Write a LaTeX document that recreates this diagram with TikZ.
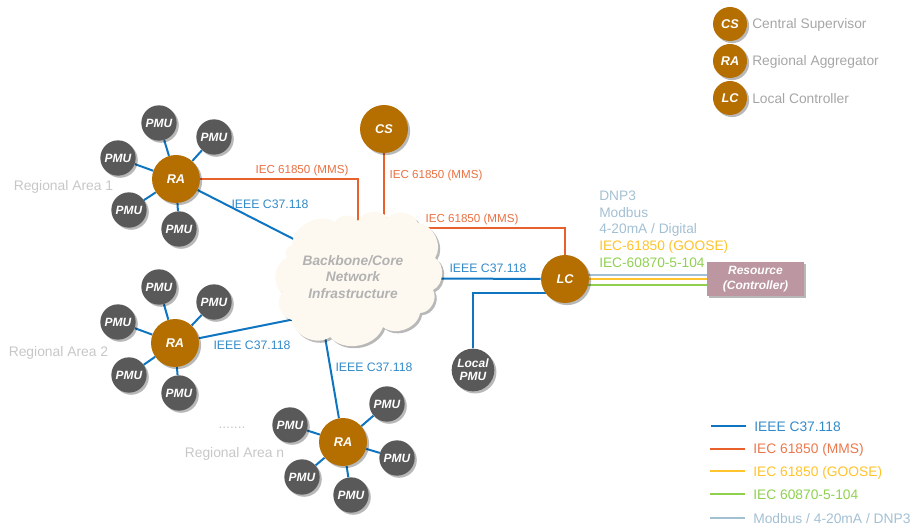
\documentclass[tikz,border=0pt]{standalone}
\usepackage{fontspec}
\setmainfont{Liberation Sans}
\usetikzlibrary{shadows,backgrounds}
\definecolor{cblue}{HTML}{0F75C0}
\definecolor{corange}{HTML}{E8602C}
\definecolor{cyellow}{HTML}{FFC32B}
\definecolor{cgreen}{HTML}{8FD14F}
\definecolor{cpale}{HTML}{A3C0D3}
\definecolor{cbrown}{HTML}{B56F00}
\definecolor{cdark}{HTML}{595959}
\definecolor{ccloud}{HTML}{FDF8F0}
\definecolor{cres}{HTML}{BC96A0}
\tikzset{
 softshadow/.style={drop shadow={shadow xshift=1.6pt,shadow yshift=-1.6pt,opacity=.28,fill=black}},
 hub/.style={circle,fill=cbrown,minimum size=36pt,inner sep=0pt,text=white,font=\fontsize{9.5}{11}\selectfont\bfseries\itshape,softshadow},
 keyhub/.style={hub,minimum size=25.5pt},
 pmu/.style={circle,fill=cdark,minimum size=26.5pt,inner sep=0pt,text=white,font=\fontsize{9}{10.5}\selectfont\bfseries\itshape,align=center,softshadow},
 localpmu/.style={pmu,minimum size=32pt},
 blueline/.style={draw=cblue,line width=1.5pt},
 orangeline/.style={draw=corange,line width=1.5pt},
 yellowline/.style={draw=cyellow,line width=1.5pt},
 greenline/.style={draw=cgreen,line width=1.5pt},
 paleline/.style={draw=cpale,line width=1.5pt},
 lab/.style={font=\fontsize{8.7}{10.5}\selectfont,inner sep=0pt,text=corange!90!white},
 bluelab/.style={font=\fontsize{9.2}{10.5}\selectfont,inner sep=0pt,text=cblue!85!white},
 keylab/.style={font=\fontsize{10.35}{12}\selectfont,inner sep=0pt,anchor=west},
 area/.style={font=\fontsize{10.4}{12}\selectfont,text=black!22,inner sep=0pt},
 proto/.style={font=\fontsize{10.3}{12}\selectfont,inner sep=0pt,anchor=west},
}
\begin{document}
\begin{tikzpicture}[x=0.75pt,y=-0.75pt]
\useasboundingbox (0,0) rectangle (915,527);
% hubs
\node[hub] (ra1) at (176,179) {RA};
\node[hub] (ra2) at (175,343) {RA};
\node[hub] (ra3) at (343,442) {RA};
\node[hub] (cs) at (384,129) {CS};
\node[hub] (lc) at (565,279) {LC};
% PMUs
\node[pmu] (p11) at (159,123) {PMU};
\node[pmu] (p12) at (214,137) {PMU};
\node[pmu] (p13) at (118,158) {PMU};
\node[pmu] (p14) at (129,210) {PMU};
\node[pmu] (p15) at (179,229) {PMU};
\node[pmu] (p21) at (159,287) {PMU};
\node[pmu] (p22) at (214,302) {PMU};
\node[pmu] (p23) at (118,322) {PMU};
\node[pmu] (p24) at (129,375) {PMU};
\node[pmu] (p25) at (179,393) {PMU};
\node[pmu] (p31) at (290,425) {PMU};
\node[pmu] (p32) at (387,404) {PMU};
\node[pmu] (p33) at (397,458) {PMU};
\node[pmu] (p34) at (302,477) {PMU};
\node[pmu] (p35) at (351,495) {PMU};
\node[localpmu] (lp) at (473,370) {Local\\[-1pt]PMU};
% cloud
\path[fill=ccloud,softshadow] (287,258) to[bend left=60] (292,245) to[bend left=60] (335,222)
  to[bend left=60] (358,221) to[bend left=60] (388,218) to[bend left=60] (418,223)
  to[bend left=60] (435,258) to[bend left=60] (433,290) to[bend left=60] (420,313)
  to[bend left=60] (383,327) to[bend left=60] (330,337) to[bend left=60] (292,320)
  to[bend left=60] (282,293) to[bend left=60] cycle;
\node[inner sep=0pt,align=center,text=black!30,font=\fontsize{10.3}{12.4}\selectfont\bfseries\itshape] (core) at (353,277) {Backbone/Core\\Network\\Infrastructure};
% resource
\node[rectangle,fill=cres,minimum width=73pt,minimum height=25.5pt,inner sep=0pt,text=white,align=center,softshadow,font=\fontsize{9}{11}\selectfont\bfseries\itshape] (res) at (755.5,279) {Resource\\(Controller)};
% connector ends
\coordinate (m1) at (358,179);
\coordinate (m3) at (565,228);
\coordinate (lpc) at (473,293);
\coordinate (e1) at (315,250);
\coordinate (e2) at (315,315);
\coordinate (e3) at (323,325);
\coordinate (e4) at (420,278.5);
\coordinate (lg1a) at (711,426); \coordinate (lg1b) at (746,426);
\coordinate (lg2a) at (710,449); \coordinate (lg2b) at (745,449);
\coordinate (lg3a) at (710,471); \coordinate (lg3b) at (745,471);
\coordinate (lg4a) at (710,494); \coordinate (lg4b) at (745,494);
\coordinate (lg5a) at (710,518); \coordinate (lg5b) at (745,518);
\begin{scope}[on background layer]
\foreach \p in {p11,p12,p13,p14,p15} \draw[blueline] (ra1) -- (\p);
\foreach \p in {p21,p22,p23,p24,p25} \draw[blueline] (ra2) -- (\p);
\foreach \p in {p31,p32,p33,p34,p35} \draw[blueline] (ra3) -- (\p);
\draw[orangeline] (ra1) -- (m1) -- (m1 |- core);
\draw[orangeline] (cs) -- (cs |- core);
\draw[orangeline] (lc) -- (m3) -- (m3 -| core);
\draw[blueline] (ra1) -- (e1);
\draw[blueline] (ra2) -- (e2);
\draw[blueline] (ra3) -- (e3);
\draw[blueline] (lc) -- (e4);
\draw[blueline] (lp) -- (lpc) -- (lpc -| lc);
\draw[paleline] ([yshift=3pt]lc.center) -- ([yshift=3pt]res.center);
\draw[yellowline] (lc) -- (res);
\draw[greenline] ([yshift=-4.5pt]lc.center) -- ([yshift=-4.5pt]res.center);
\end{scope}
% connector labels
\node[lab] at (302,170.5) {IEC 61850 (MMS)};
\node[lab] at (436,176) {IEC 61850 (MMS)};
\node[lab] at (472,220) {IEC 61850 (MMS)};
\node[bluelab] at (270,204) {IEEE C37.118};
\node[bluelab] at (252,345) {IEEE C37.118};
\node[bluelab] at (374,367) {IEEE C37.118};
\node[bluelab] at (488,268) {IEEE C37.118};
% areas
\node[area] at (63.5,187) {Regional Area 1};
\node[area] at (58.5,353) {Regional Area 2};
\node[area] at (234.5,453.5) {Regional Area n};
\node[area] at (232,428) {.......};
% protocols
\node[proto,text=cpale] at (599,195.5) {DNP3};
\node[proto,text=cpale] at (599,212.5) {Modbus};
\node[proto,text=cpale] at (599,229.5) {4-20mA / Digital};
\node[proto,text=cyellow] at (599,246.5) {IEC-61850 (GOOSE)};
\node[proto,text=cgreen] at (599,262.5) {IEC-60870-5-104};
% top key
\node[keyhub] (k1) at (730,24) {CS};
\node[keyhub] (k2) at (730,61) {RA};
\node[keyhub] (k3) at (730,98) {LC};
\node[keylab,text=black!35] at (752,24.5) {Central Supervisor};
\node[keylab,text=black!35] at (752,61.5) {Regional Aggregator};
\node[keylab,text=black!35] at (752,98.5) {Local Controller};
% bottom key
\draw[blueline] (lg1a) -- (lg1b);
\draw[orangeline] (lg2a) -- (lg2b);
\draw[yellowline] (lg3a) -- (lg3b);
\draw[greenline] (lg4a) -- (lg4b);
\draw[paleline] (lg5a) -- (lg5b);
\node[keylab,text=cblue!85!white] at (754,426.5) {IEEE C37.118};
\node[keylab,text=corange!85!white] at (753,449.5) {IEC 61850 (MMS)};
\node[keylab,text=cyellow] at (753,472.5) {IEC 61850 (GOOSE)};
\node[keylab,text=cgreen] at (753,494.5) {IEC 60870-5-104};
\node[keylab,text=cpale] at (753,519) {Modbus / 4-20mA / DNP3};
\end{tikzpicture}
\end{document}
